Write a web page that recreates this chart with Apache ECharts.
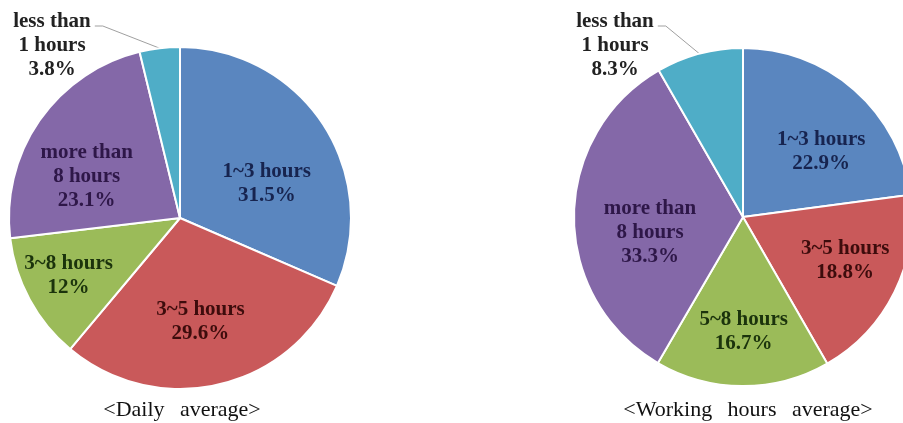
<!DOCTYPE html>
<html>
<head>
<meta charset="utf-8">
<script src="https://cdn.jsdelivr.net/npm/echarts@6/dist/echarts.min.js"></script>
<style>
html,body{margin:0;padding:0;background:#fff;}
#chart{width:903px;height:423px;}
</style>
</head>
<body>
<div id="chart"></div>
<script>
// ---- data ----
const dailyCategories = ['1~3 hours', '3~5 hours', '3~8 hours', 'more than\n8 hours', 'less than\n1 hours'];
const dailyValues = [31.5, 29.6, 12, 23.1, 3.8];
const workCategories = ['1~3 hours', '3~5 hours', '5~8 hours', 'more than\n8 hours', 'less than\n1 hours'];
const workValues = [22.9, 18.8, 16.7, 33.3, 8.3];
const titles = ['<Daily  \u2009average>', '<Working  \u2009hours  \u2009average>'];

// ---- styles ----
const sliceColors = ['#5A86BF', '#C9595A', '#9BBB59', '#8468A8', '#4FADC7'];
const textColors = ['#17244f', '#3d0c0c', '#1b330c', '#2e1748', '#222222'];
const FONT = '"Liberation Serif", "Times New Roman", serif';
const pies = [
  { cx: 180, cy: 218, r: 171, outsideLabel: [52, 46], nudge: [[-2, 24], [-4, 0], [-18, 7], [-6, 19], [0, 0]] },
  { cx: 743, cy: 217, r: 169, outsideLabel: [615, 46], nudge: [[9, 14], [8, -3], [1, 10], [12, 16], [0, 0]] }
];

function buildData(cats, vals) {
  return cats.map((c, i) => {
    const item = {
      name: c,
      value: vals[i],
      itemStyle: { color: sliceColors[i] },
      label: { color: textColors[i] }
    };
    if (i === cats.length - 1) {
      item.label = { position: 'outside', color: textColors[i], alignTo: 'none' };
      item.labelLine = { show: true, length: 10, length2: 10, lineStyle: { color: '#a0a0a0', width: 1 } };
    }
    return item;
  });
}

function makeSeries(idx, cats, vals) {
  const p = pies[idx];
  const total = vals.reduce((a, b) => a + b, 0);
  const last = cats.length - 1;
  // mid-angle of the last slice (clockwise from 90deg, so it sits just left of the top)
  const lastMid = (90 + (vals[last] / total) * 180) * Math.PI / 180;
  const anchor = [p.cx + p.r * Math.cos(lastMid), p.cy - p.r * Math.sin(lastMid)];
  return {
    type: 'pie',
    center: [p.cx, p.cy],
    radius: [0, p.r],
    startAngle: 90,
    clockwise: true,
    avoidLabelOverlap: false,
    animation: false,
    itemStyle: { borderColor: '#ffffff', borderWidth: 2 },
    label: {
      show: true,
      position: 'inside',
      formatter: (d) => d.name + '\n' + d.value + '%',
      fontFamily: FONT,
      fontWeight: 'bold',
      fontSize: 21,
      lineHeight: 24,
      align: 'center'
    },
    labelLine: { show: false },
    emphasis: { disabled: true },
    labelLayout: function (params) {
      const r = params.labelRect;
      if (params.dataIndex === last) {
        const x = p.outsideLabel[0], y = p.outsideLabel[1];
        const right = x + r.width / 2 + 4;
        const ly = y - r.height / 2 + 16;
        return {
          x: x, y: y, align: 'center', verticalAlign: 'middle',
          labelLinePoints: [anchor, [right + 8, ly], [right, ly]]
        };
      }
      const lx = r.x + r.width / 2, ly = r.y + r.height / 2;
      const k = 1.2;
      const n = p.nudge[params.dataIndex];
      return {
        x: p.cx + (lx - p.cx) * k + n[0],
        y: p.cy + (ly - p.cy) * k + n[1],
        align: 'center',
        verticalAlign: 'middle'
      };
    },
    data: buildData(cats, vals)
  };
}

const chart = echarts.init(document.getElementById('chart'), null, { renderer: 'canvas' });
chart.setOption({
  backgroundColor: '#ffffff',
  title: [
    { text: titles[0], left: 177, top: 394, textAlign: 'center',
      textStyle: { fontFamily: FONT, fontWeight: 'normal', fontSize: 22, color: '#111' } },
    { text: titles[1], left: 743, top: 394, textAlign: 'center',
      textStyle: { fontFamily: FONT, fontWeight: 'normal', fontSize: 22, color: '#111' } }
  ],
  series: [
    makeSeries(0, dailyCategories, dailyValues),
    makeSeries(1, workCategories, workValues)
  ]
});
</script>
</body>
</html>
